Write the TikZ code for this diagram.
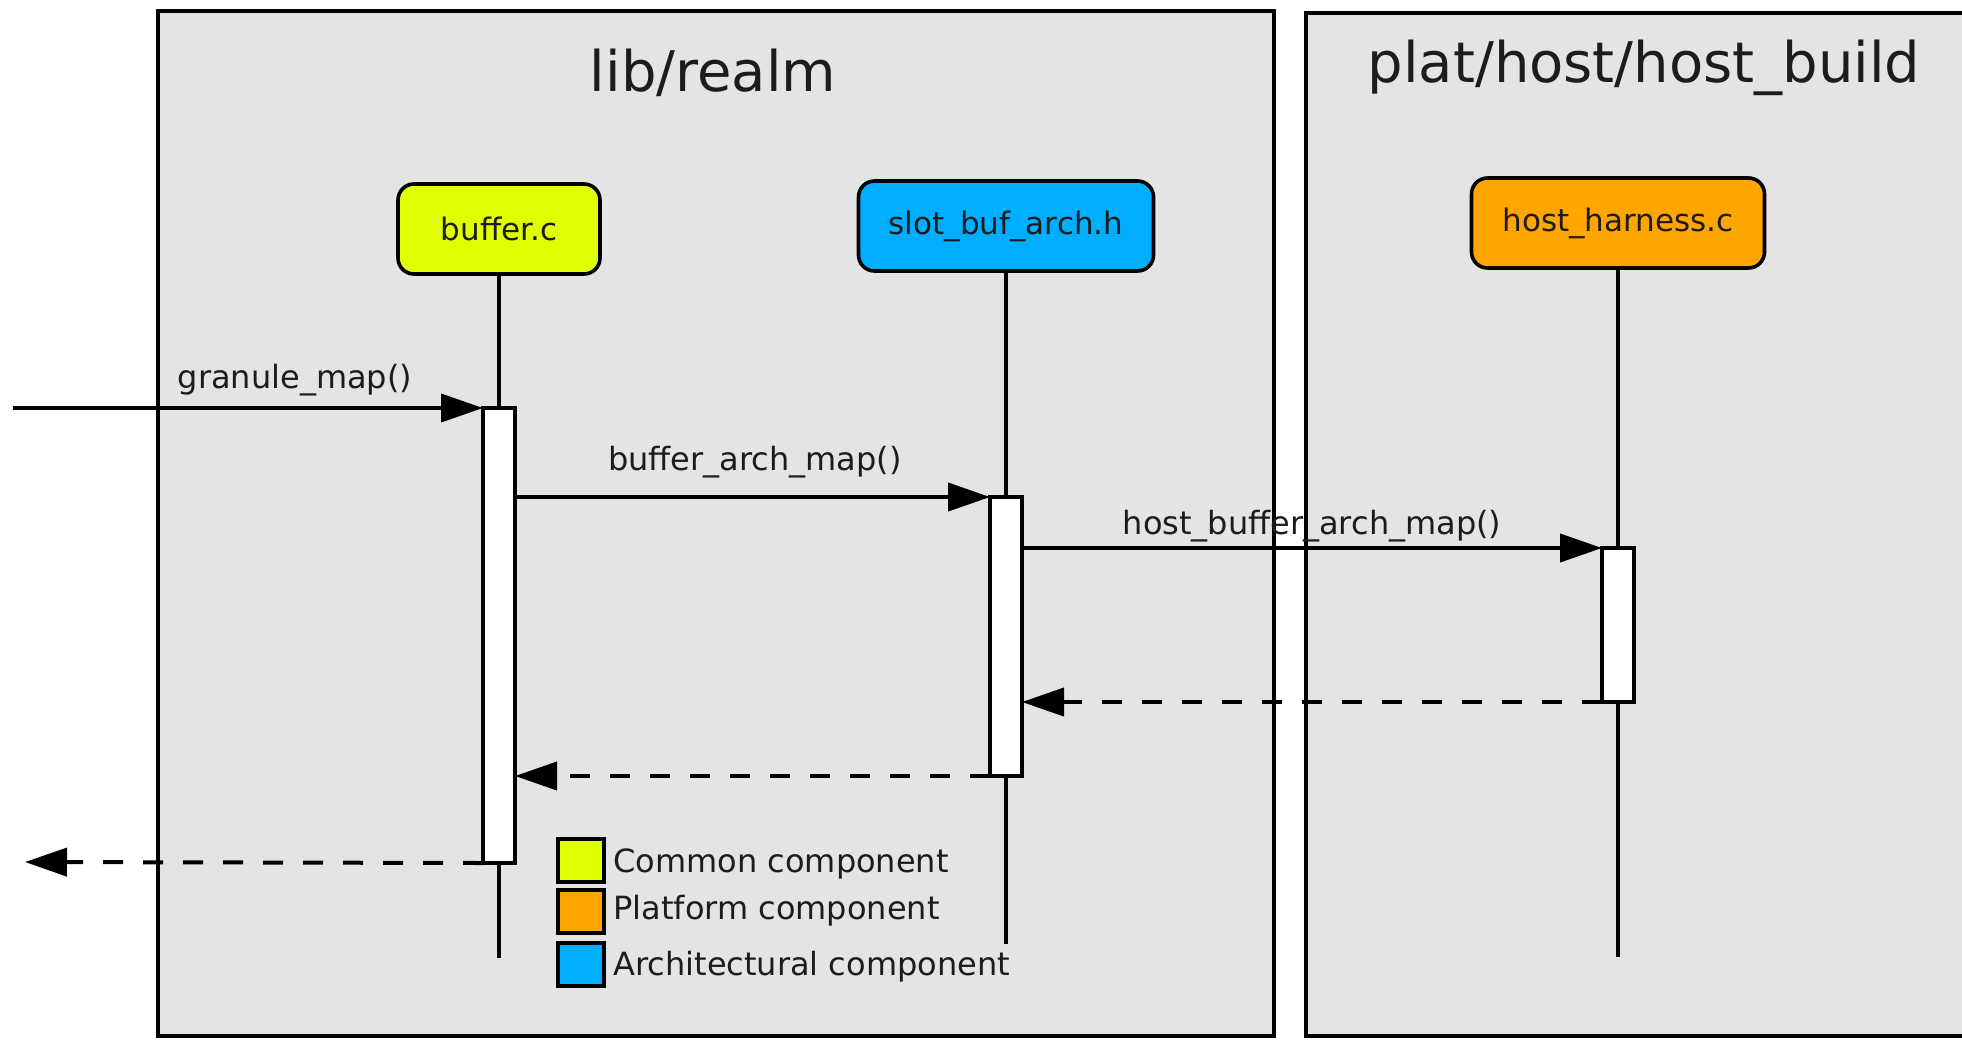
\documentclass[tikz,border=0pt]{standalone}
\usepackage{fontspec}
\setmainfont{DejaVu Sans}
\usetikzlibrary{arrows.meta}

\definecolor{framegray}{RGB}{228,228,228}
\definecolor{commonyellow}{RGB}{224,255,0}
\definecolor{platorange}{RGB}{255,165,0}
\definecolor{archblue}{RGB}{0,174,255}
\definecolor{inkgray}{RGB}{28,28,28}

\begin{document}
\begin{tikzpicture}[x=0.5pt,y=-0.5pt,
  frame/.style={draw=black, line width=1.8pt, fill=framegray},
  title/.style={font=\fontsize{28}{34}\selectfont, text=inkgray, anchor=base, inner sep=0pt},
  head/.style={draw=black, line width=1.8pt, rounded corners=8pt, minimum height=45pt,
    inner sep=0pt, font=\fontsize{15.5}{19}\selectfont, text=inkgray},
  lifeline/.style={line width=1.6pt},
  actbar/.style={draw=black, fill=white, line width=2pt, minimum width=16pt,
    inner sep=0pt, outer sep=0pt, anchor=north},
  call/.style={line width=2pt, -{Triangle[length=21pt,width=14pt]}},
  reply/.style={call, dash pattern=on 10pt off 10pt},
  msg/.style={font=\fontsize{16}{19}\selectfont, text=inkgray, anchor=base, inner sep=0pt},
  swatch/.style={draw=black, line width=2pt, minimum width=23pt, minimum height=21.5pt,
    inner sep=0pt, outer sep=0pt},
  legendtext/.style={font=\fontsize{16}{19}\selectfont, text=inkgray, anchor=base west, inner sep=0pt}
]
\useasboundingbox (0,0) rectangle (1962,1039);

% package frames
\fill[framegray] (1306,13) rectangle (1970,1036);
\draw[line width=1.8pt] (1970,13) -- (1306,13) -- (1306,1036) -- (1970,1036);
\draw[frame] (158,11) rectangle (1274,1036);
\node[title] (realmtitle) at (713,91) {lib/realm};
\node[title] (hosttitle) at (1644,82) {plat/host/host\_build};

% lifeline heads
\node[head, fill=commonyellow, minimum width=101pt] (buf) at (499,229) {buffer.c};
\node[head, fill=archblue, minimum width=147.5pt] (slot) at (1006,226) {slot\_buf\_arch.h};
\node[head, fill=platorange, minimum width=146.5pt] (host) at (1618,223) {host\_harness.c};

% lifelines
\coordinate (bufend) at (499,958);
\coordinate (slotend) at (1006,944);
\coordinate (hostend) at (1618,957);
\draw[lifeline] (buf) -- (bufend);
\draw[lifeline] (slot) -- (slotend);
\draw[lifeline] (host) -- (hostend);

% activation bars
\node[actbar, minimum height=227.5pt] (bar1) at (499,408) {};
\node[actbar, minimum height=139.5pt] (bar2) at (1006,497) {};
\node[actbar, minimum height=77pt] (bar3) at (1618,548) {};

% calls
\coordinate (caller) at (13,408);
\draw[call] (caller) -- (bar1.north west);
\draw[call] (bar1.east |- bar2.north) -- (bar2.north west);
\draw[call] (bar2.east |- bar3.north) -- (bar3.north west);

% replies
\coordinate (callerret) at (25,862);
\draw[reply] (bar3.south west) -- (bar2.east |- bar3.south);
\draw[reply] (bar2.south west) -- (bar1.east |- bar2.south);
\draw[reply] (bar1.south west) -- (callerret);

% message labels
\node[msg] (m1) at (295,388) {granule\_map()};
\node[msg] (m2) at (755,470) {buffer\_arch\_map()};
\node[msg] (m3) at (1312,534) {host\_buffer\_arch\_map()};

% legend
\node[swatch, fill=commonyellow] (lg1) at (581,860) {};
\node[swatch, fill=platorange] (lg2) at (581,911.5) {};
\node[swatch, fill=archblue] (lg3) at (581,964) {};
\node[legendtext] (lt1) at (613,872) {Common component};
\node[legendtext] (lt2) at (613,919) {Platform component};
\node[legendtext] (lt3) at (613,975) {Architectural component};
\end{tikzpicture}
\end{document}
